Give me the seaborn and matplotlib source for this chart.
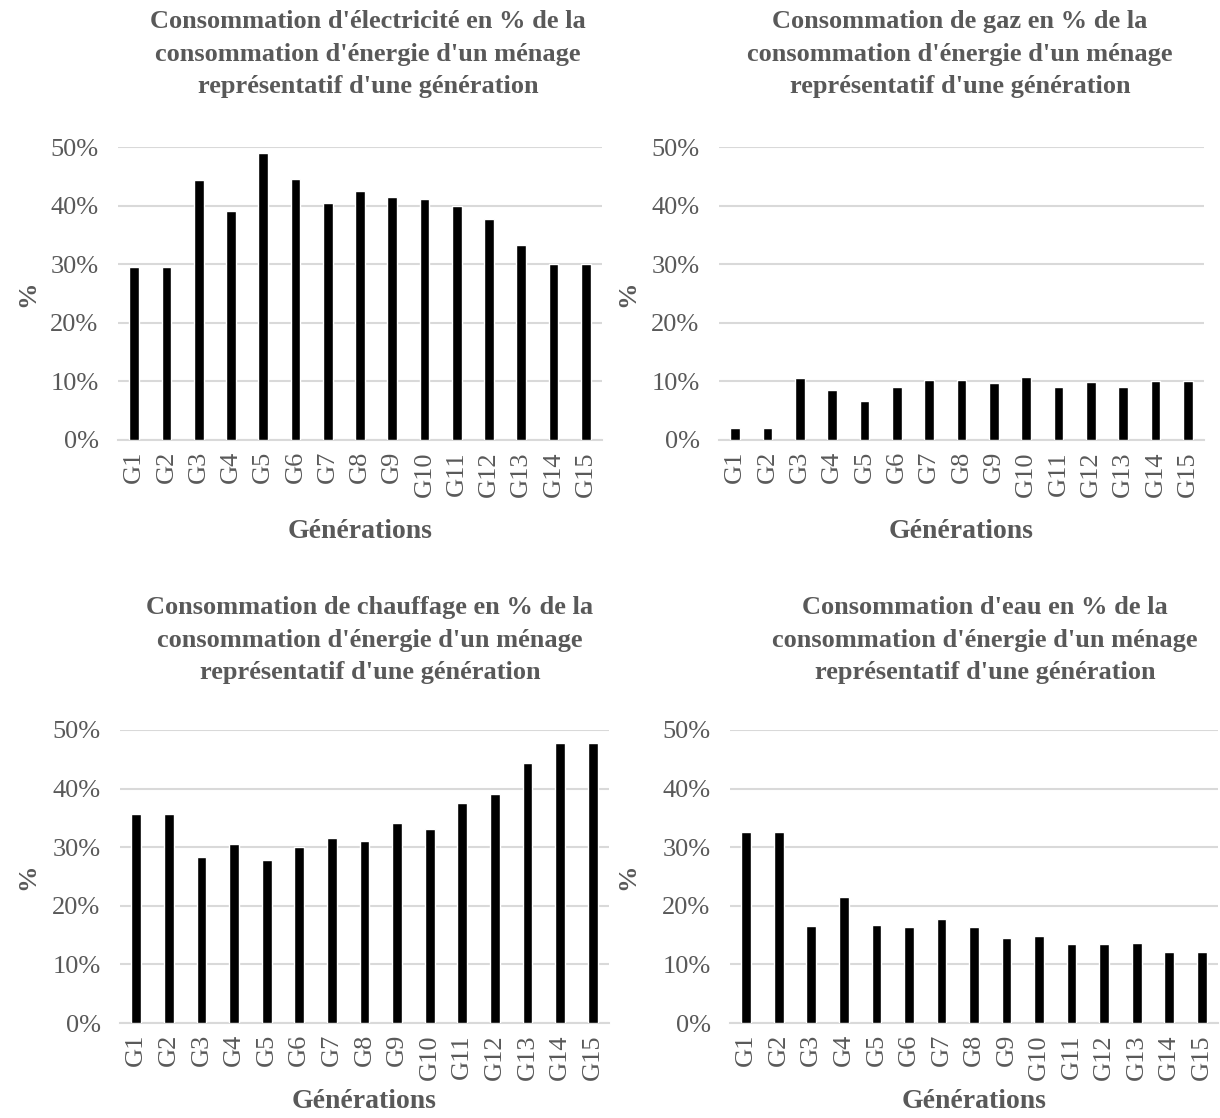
import matplotlib
matplotlib.use("Agg")
import matplotlib.pyplot as plt
import seaborn as sns
import pandas as pd
from matplotlib.ticker import PercentFormatter, MultipleLocator

generations = ["G1", "G2", "G3", "G4", "G5", "G6", "G7", "G8", "G9", "G10",
               "G11", "G12", "G13", "G14", "G15"]

electricite = [29.6, 29.6, 44.4, 39.1, 48.9, 44.5, 40.4, 42.5, 41.5, 41.1,
               39.9, 37.7, 33.2, 30.1, 30.1]
gaz = [2.0, 2.0, 10.5, 8.5, 6.6, 9.1, 10.3, 10.2, 9.7, 10.7,
       9.1, 9.9, 9.0, 10.1, 10.1]
chauffage = [35.6, 35.6, 28.4, 30.6, 27.8, 30.0, 31.5, 31.0, 34.2, 33.1,
             37.6, 39.0, 44.3, 47.7, 47.7]
eau = [32.6, 32.6, 16.6, 21.5, 16.7, 16.4, 17.7, 16.3, 14.5, 14.8,
       13.4, 13.4, 13.6, 12.1, 12.1]

titles = [
    "Consommation d'électricité en % de la\nconsommation d'énergie d'un ménage\nreprésentatif d'une génération",
    "Consommation de gaz en % de la\nconsommation d'énergie d'un ménage\nreprésentatif d'une génération",
    "Consommation de chauffage en % de la\nconsommation d'énergie d'un ménage\nreprésentatif d'une génération",
    "Consommation d'eau en % de la\nconsommation d'énergie d'un ménage\nreprésentatif d'une génération",
]
xlabel = "Générations"
ylabel = "%"

sns.set_theme(style="white")
plt.rcParams['font.family'] = ['Liberation Serif', 'DejaVu Serif']

W, H = 1220, 1118
fig = plt.figure(figsize=(W / 100, H / 100), dpi=100)

# (left px, right px, top px, bottom px, title center x px, title center y px, ylabel x px, xlabel y px)
layout = [
    (118, 602, 147, 440, 368, 54, 28, 531),
    (719, 1204, 147, 440, 960, 54, 628, 531),
    (120, 609, 730, 1023, 370, 640, 28, 1101),
    (730, 1218, 730, 1023, 985, 640, 628, 1101),
]
series = [electricite, gaz, chauffage, eau]

grey = "#595959"
for vals, title, (l, r, t, b, tx, ty, yx, xy) in zip(series, titles, layout):
    ax = fig.add_axes([l / W, 1 - b / H, (r - l) / W, (b - t) / H])
    df = pd.DataFrame({"gen": generations, "val": [v / 100 for v in vals]})
    sns.barplot(data=df, x="gen", y="val", color="black", width=0.3,
                saturation=1, ax=ax, zorder=3)
    ax.set_ylim(0, 0.5)
    ax.set_xlim(-0.5, 14.5)
    ax.yaxis.set_major_locator(MultipleLocator(0.1))
    ax.yaxis.set_major_formatter(PercentFormatter(1.0, decimals=0))
    ax.grid(axis="y", color="#d9d9d9", linewidth=1.5, zorder=0)
    ax.set_axisbelow(True)
    for s in ["top", "right", "left"]:
        ax.spines[s].set_visible(False)
    ax.spines["bottom"].set_color("#d9d9d9")
    ax.spines["bottom"].set_linewidth(1.5)
    ax.tick_params(axis="both", length=0, labelsize=19, labelcolor=grey)
    ax.tick_params(axis="x", rotation=90, pad=8)
    ax.tick_params(axis="y", pad=14)
    ax.set_xlabel(xlabel, fontsize=20, fontweight="bold", color=grey, va="center")
    ax.xaxis.set_label_coords(0.5, -(xy - b) / (b - t))
    ax.set_ylabel(ylabel, fontsize=19, fontweight="bold", color=grey, va="center")
    ax.yaxis.set_label_coords(-(l - yx) / (r - l), 0.5)
    fig.text(tx / W, 1 - ty / H, title, ha="center", va="center",
             multialignment="center", fontsize=19, fontweight="bold",
             color=grey, linespacing=1.55)

fig.savefig("out.png", dpi=100)
